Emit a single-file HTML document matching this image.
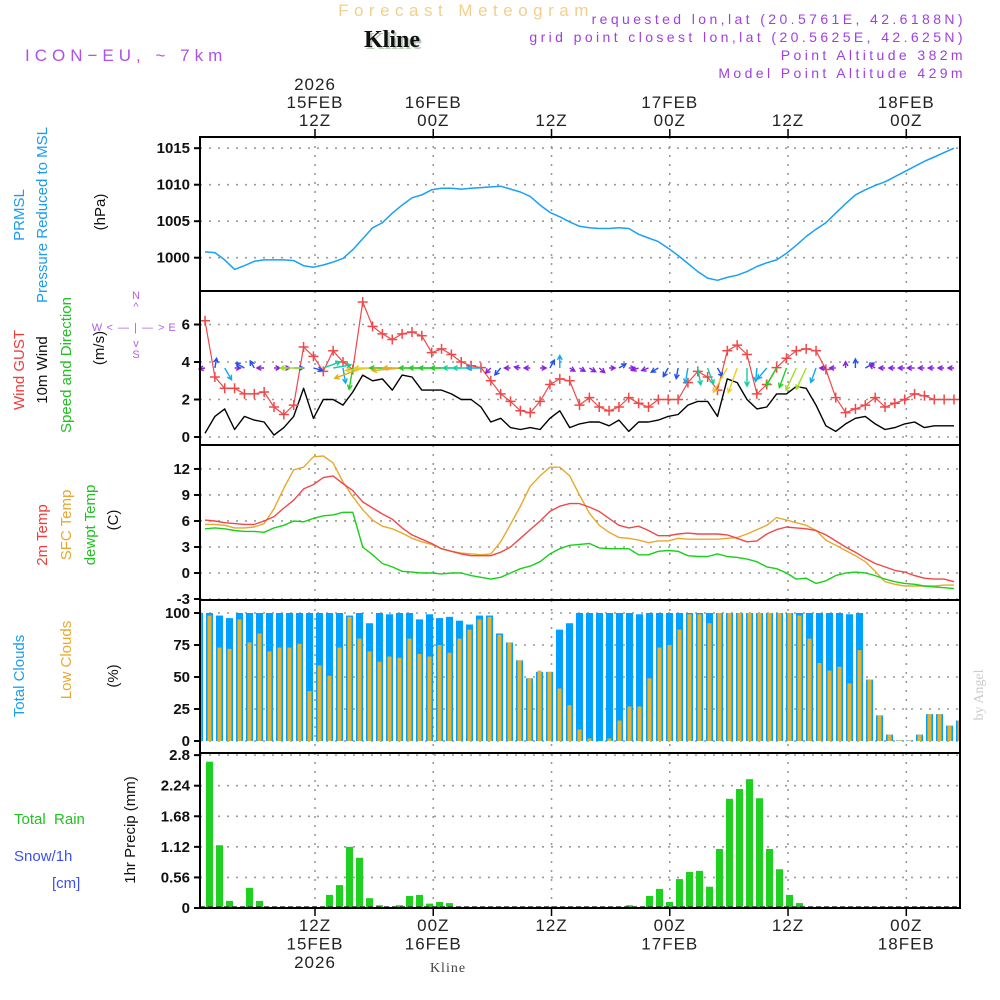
<!DOCTYPE html>
<html><head><meta charset="utf-8"><title>Forecast Meteogram - Kline</title>
<style>
html,body{margin:0;padding:0;background:#fff;}
svg{display:block;font-family:"Liberation Sans",sans-serif;}
.tk{font-size:15px;font-weight:bold;fill:#111;text-anchor:end;}
.tl{font-size:17px;fill:#222;text-anchor:middle;letter-spacing:1px;}
.lab{font-size:15px;}
</style></head>
<body>
<svg id="chart" width="1000" height="1000" viewBox="0 0 1000 1000">
  <text x="466" y="16" text-anchor="middle" font-size="17" fill="#f3cf8a" letter-spacing="5.5">Forecast Meteogram</text>
  <text x="394" y="49" text-anchor="middle" font-size="24" font-weight="bold" font-family="Liberation Serif,serif" fill="#b9cbb9">Kline</text>
  <text x="392" y="47" text-anchor="middle" font-size="24" font-weight="bold" font-family="Liberation Serif,serif" fill="#111">Kline</text>
  <text x="25" y="61" font-size="17" fill="#b050e8" letter-spacing="5">ICON−EU, ~ 7km</text>
  <g font-size="14" fill="#a040e0" text-anchor="end" letter-spacing="3.4">
    <text x="966" y="24">requested lon,lat (20.5761E, 42.6188N)</text>
    <text x="966" y="42">grid point closest lon,lat (20.5625E, 42.625N)</text>
    <text x="966" y="60">Point Altitude 382m</text>
    <text x="966" y="78">Model Point Altitude 429m</text>
  </g>

  <g class="lab">
    <text transform="translate(24,215) rotate(-90)" text-anchor="middle" fill="#1a9cf0">PRMSL</text>
    <text transform="translate(47,215) rotate(-90)" text-anchor="middle" fill="#1a9cf0">Pressure Reduced to MSL</text>
    <text transform="translate(105,212) rotate(-90)" text-anchor="middle" fill="#111">(hPa)</text>
  </g>
  <g class="lab">
    <text transform="translate(24,370) rotate(-90)" text-anchor="middle" fill="#f03c3c">Wind GUST</text>
    <text transform="translate(47,370) rotate(-90)" text-anchor="middle" fill="#111">10m Wind</text>
    <text transform="translate(71,365) rotate(-90)" text-anchor="middle" fill="#22c022">Speed and Direction</text>
    <text transform="translate(104,348) rotate(-90)" text-anchor="middle" fill="#111">(m/s)</text>
    <g font-size="11" fill="#b060e8" text-anchor="middle">
      <text x="136" y="299">N</text><text x="136" y="310">^</text>
      <text x="97" y="331">W</text><text x="136" y="331" letter-spacing="1">&lt; — | — &gt;</text><text x="172" y="331">E</text>
      <text x="136" y="347">v</text><text x="136" y="358">S</text>
    </g>
  </g>
  <g class="lab">
    <text transform="translate(47,535) rotate(-90)" text-anchor="middle" fill="#f03c3c">2m Temp</text>
    <text transform="translate(71,525) rotate(-90)" text-anchor="middle" fill="#e8a830">SFC Temp</text>
    <text transform="translate(95,525) rotate(-90)" text-anchor="middle" fill="#22c022">dewpt Temp</text>
    <text transform="translate(118,520) rotate(-90)" text-anchor="middle" fill="#111">(C)</text>
  </g>
  <g class="lab">
    <text transform="translate(24,676) rotate(-90)" text-anchor="middle" fill="#1a9cf0">Total Clouds</text>
    <text transform="translate(71,660) rotate(-90)" text-anchor="middle" fill="#e8a830">Low Clouds</text>
    <text transform="translate(118,676) rotate(-90)" text-anchor="middle" fill="#111">(%)</text>
  </g>
  <g class="lab">
    <text x="14" y="824" fill="#22c022" xml:space="preserve">Total  Rain</text>
    <text x="14" y="861" fill="#3c50f0">Snow/1h</text>
    <text x="52" y="888" fill="#3c50f0">[cm]</text>
    <text transform="translate(135,830) rotate(-90)" text-anchor="middle" fill="#111">1hr Precip (mm)</text>
  </g>
  <text transform="translate(983,695) rotate(-90)" text-anchor="middle" font-size="14" fill="#ccc" font-family="Liberation Serif,serif">by Angel</text>
  <text x="448" y="972" text-anchor="middle" font-size="14" fill="#444" font-family="Liberation Serif,serif" letter-spacing="1">Kline</text>

  <g id="grid"></g>
  <g id="marks"></g>
  <g id="frames"></g>
  <g id="ticks"></g>
</svg>
<script>
// ---- data ----
const timeHours = [12, 24, 36, 48, 60, 72];
const timeLabelTop = [["2026","15FEB","12Z"],["16FEB","00Z"],["12Z"],["17FEB","00Z"],["12Z"],["18FEB","00Z"]];
const timeLabelBottom = [["12Z","15FEB","2026"],["00Z","16FEB"],["12Z"],["00Z","17FEB"],["12Z"],["00Z","18FEB"]];
const pressure = [1000.8,1000.7,999.7,998.4,998.9,999.5,999.7,999.7,999.7,999.6,998.9,998.7,999.0,999.4,999.9,1001.1,1002.6,1004.1,1004.8,1006.1,1007.2,1008.2,1008.6,1009.3,1009.5,1009.5,1009.4,1009.5,1009.6,1009.7,1009.8,1009.4,1009.0,1008.4,1007.2,1006.2,1005.6,1004.9,1004.3,1004.1,1004.0,1004.0,1004.1,1004.0,1003.2,1002.7,1002.2,1001.3,1000.3,999.2,998.1,997.2,996.9,997.3,997.6,998.1,998.8,999.3,999.7,1000.6,1001.7,1002.9,1003.9,1004.8,1006.1,1007.4,1008.6,1009.3,1009.9,1010.4,1011.1,1011.8,1012.5,1013.2,1013.8,1014.4,1015.0];
const windGust = [6.2,3.2,2.6,2.6,2.3,2.3,2.4,1.6,1.2,1.7,4.8,4.3,3.5,4.6,4.0,3.6,7.2,5.9,5.5,5.2,5.5,5.6,5.4,4.5,4.7,4.4,4.0,3.8,3.7,3.0,2.3,1.9,1.4,1.3,1.9,2.8,3.1,3.0,1.7,2.1,1.6,1.4,1.6,2.1,1.8,1.6,2.0,2.0,2.0,2.9,3.5,3.2,2.5,4.6,4.9,4.4,2.3,2.8,3.7,4.2,4.6,4.7,4.6,3.6,2.1,1.3,1.5,1.7,2.1,1.6,1.8,2.0,2.3,2.2,2.0,2.0,2.0];
const wind10m = [0.2,1.1,1.5,0.4,1.1,0.9,0.8,0.1,0.5,1.1,2.6,1.0,2.0,2.0,1.7,2.4,3.3,3.0,3.1,2.5,3.3,3.2,2.5,2.5,2.5,2.3,2.0,2.0,1.6,0.8,1.0,0.5,0.4,0.5,0.4,1.0,1.4,0.5,0.7,0.8,0.8,0.6,0.9,0.3,0.8,0.8,0.9,1.1,1.2,1.7,1.9,1.9,1.1,3.1,2.9,2.0,1.5,1.6,2.3,2.3,2.7,2.6,1.7,0.6,0.3,0.7,1.0,1.1,0.7,0.4,0.5,0.7,0.8,0.5,0.6,0.6,0.6];
const windDir = [190,80,-60,0,150,120,180,0,0,0,180,-15,20,10,-80,-100,200,185,180,180,185,180,180,180,180,180,180,180,180,-135,-130,180,170,180,0,60,90,-30,-30,-30,-40,0,30,0,200,200,210,-120,-100,-100,-80,-70,-60,-120,-110,-90,-95,-130,-120,-110,-115,-115,-110,180,180,90,90,30,150,180,180,180,180,180,180,180,180];
const temp2m = [6.1,6.0,5.8,5.7,5.6,5.6,6.0,6.5,7.5,8.4,9.7,10.2,11.0,11.2,10.3,9.5,8.2,7.5,6.8,6.2,5.2,4.4,3.9,3.4,2.8,2.5,2.2,2.0,2.0,2.0,2.4,3.0,4.0,5.0,6.0,7.1,7.7,8.0,8.0,7.6,7.1,6.3,5.5,5.2,5.4,4.9,4.3,4.3,4.5,4.6,4.5,4.5,4.5,4.4,4.0,3.6,3.7,4.5,5.0,5.3,5.2,5.1,4.9,4.4,3.7,3.0,2.4,1.7,1.1,0.7,0.3,0.1,-0.3,-0.6,-0.7,-0.7,-1.0];
const tempSfc = [5.6,5.6,5.5,5.2,5.2,5.3,5.7,7.4,9.8,11.9,12.2,13.4,13.5,12.7,10.5,8.8,7.3,6.1,5.4,5.1,4.6,4.0,3.6,3.3,2.8,2.5,2.3,2.2,2.1,2.2,3.6,5.6,7.7,10.0,11.2,12.2,12.2,11.2,9.0,6.9,5.5,4.7,4.1,4.0,3.8,3.5,3.7,3.7,4.0,3.9,3.9,3.9,3.9,4.0,4.1,4.5,5.0,5.5,6.4,6.1,5.8,5.5,4.9,3.8,3.2,2.6,2.0,1.3,0.2,-1.0,-1.3,-1.5,-1.5,-1.5,-1.5,-1.4,-1.4];
const dewpt = [5.1,5.2,5.1,4.9,4.8,4.8,4.7,5.2,5.5,6.0,5.9,6.3,6.6,6.7,7.0,7.0,3.0,2.1,1.1,0.7,0.2,0.1,0.0,0.0,-0.1,0.0,0.0,-0.3,-0.5,-0.7,-0.5,0.0,0.5,0.8,1.3,2.2,2.8,3.2,3.3,3.4,2.9,2.8,2.8,2.8,2.1,2.1,2.5,2.6,2.5,2.0,1.9,1.9,2.2,1.9,1.8,1.6,1.3,0.7,0.5,0.0,-0.7,-0.6,-1.2,-0.9,-0.3,0.0,0.1,0.0,-0.3,-0.7,-1.0,-1.2,-1.3,-1.5,-1.6,-1.7,-1.8];
const totalClouds = [100,100,98,96,100,100,100,100,100,100,100,100,100,100,100,98,100,92,100,99,100,100,95,99,96,97,94,91,98,98,84,77,63,49,54,54,87,92,100,100,100,100,100,100,99,100,100,100,100,100,100,100,100,100,100,100,100,100,100,100,100,100,100,100,100,99,100,48,20,5,0.5,0.5,5,21,21,12,16];
const lowClouds = [100,98,73,72,95,77,84,70,73,73,76,39,59,51,73,97,80,70,62,66,65,80,68,66,75,69,80,87,95,97,83,77,63,49,55,54,41,28,9,2,0,2,16,27,27,49,73,75,87,99,99,92,100,100,100,100,100,100,100,100,98,80,61,55,58,45,71,48,20,5,0.5,0.5,5,21,21,12,16];
const precip = [0,2.68,1.15,0.13,0,0.37,0.13,0.01,0,0,0,0,0,0.24,0.42,1.12,0.92,0.18,0.05,0.02,0.05,0.22,0.24,0.08,0.11,0.09,0.02,0,0,0,0,0,0,0,0,0,0,0,0,0,0,0,0,0.05,0.01,0.22,0.35,0.11,0.53,0.66,0.68,0.39,1.08,2.0,2.18,2.36,2.01,1.08,0.71,0.24,0.09,0,0,0,0,0,0,0,0,0,0,0,0,0,0,0,0];
const pressureTicks = [1000,1005,1010,1015];
const windTicks = [0,2,4,6];
const tempTicks = [-3,0,3,6,9,12];
const cloudTicks = [0,25,50,75,100];
const precipTicks = [0,0.56,1.12,1.68,2.24,2.8];

// ---- axes ----
const X0 = 200, X1 = 960;
const xTime = h => 315 + (h - 12) * 9.855;
const xLine = j => xTime(j + 0.84);
const xBar = i => 199.5 + 10 * i;
const panels = [
  {name:'pressure', top:137, bot:291},
  {name:'wind', top:291, bot:445},
  {name:'temp', top:445, bot:600},
  {name:'cloud', top:600, bot:753},
  {name:'precip', top:753, bot:908}
];
const yP = v => 257.7 - (v - 1000) * 7.3;
const yW = v => 437 - v * 18.75;
const yT = v => 573 - v * 8.67;
const yC = v => 741 - v * 1.28;
const yR = v => 908 - v * 54.6;

const NS = 'http://www.w3.org/2000/svg';
function mk(tag, attrs, parent) {
  const e = document.createElementNS(NS, tag);
  for (const k in attrs) e.setAttribute(k, attrs[k]);
  parent.appendChild(e);
  return e;
}
const grid = document.getElementById('grid');
const marks = document.getElementById('marks');
const frames = document.getElementById('frames');
const ticks = document.getElementById('ticks');

const gstyle = {stroke:'#9a9a9a','stroke-width':1.6,'stroke-dasharray':'2,7',fill:'none'};
function hgrid(y) {
  const l = mk('line', Object.assign({x1:X0, x2:X1, y1:y, y2:y}, gstyle), grid);
  
  
}
pressureTicks.forEach(v => hgrid(yP(v)));
windTicks.forEach(v => hgrid(yW(v)));
tempTicks.forEach(v => hgrid(yT(v)));
cloudTicks.forEach(v => hgrid(yC(v)));
precipTicks.forEach(v => hgrid(yR(v)));
panels.forEach(p => {
  timeHours.forEach(h => {
    const l = mk('line', Object.assign({x1:xTime(h), x2:xTime(h), y1:p.top, y2:p.bot}, gstyle), grid);
    
    
  });
});

function polyline(arr, yf, color, name, w) {
  const pts = arr.map((v, j) => xLine(j).toFixed(1) + ',' + yf(v).toFixed(1)).join(' ');
  const pl = mk('polyline', {points:pts, fill:'none', stroke:color, 'stroke-width':w || 1.4, 'stroke-linejoin':'round'}, marks);
  
  
}
polyline(pressure, yP, '#1aa0f5', 'pressure-line', 1.5);

const clip = mk('clipPath', {id:'plotclip'}, marks);
mk('rect', {x:X0, y:0, width:X1 - X0, height:1000}, clip);
const barG = mk('g', {'clip-path':'url(#plotclip)'}, marks);


totalClouds.forEach((v, i) => {
  const b = mk('rect', {x:xBar(i) - 3.5, y:yC(v), width:7, height:yC(0) - yC(v), fill:'#00a0ff'}, barG);
  
  
});
lowClouds.forEach((v, i) => {
  const b = mk('rect', {x:xBar(i) - 2, y:yC(v), width:4, height:yC(0) - yC(v), fill:'#e8b030'}, barG);
  
  
});
precip.forEach((v, i) => {
  if (v <= 0) return;
  const b = mk('rect', {x:xBar(i) - 3.5, y:yR(v), width:7, height:yR(0) - yR(v), fill:'#20d020'}, barG);
  
  
});
const zl = mk('line', {x1:X0, x2:X1, y1:907, y2:907, stroke:'#333', 'stroke-width':1.5, 'stroke-dasharray':'5,3'}, marks);



polyline(tempSfc, yT, '#e8a830', 'sfc-temp-line', 1.4);
polyline(temp2m, yT, '#f04848', '2m-temp-line', 1.4);
polyline(dewpt, yT, '#18d018', 'dewpt-line', 1.4);

polyline(wind10m, yW, '#000', 'wind-10m-line', 1.4);
polyline(windGust, yW, '#f04848', 'wind-gust-line', 1.2);
windGust.forEach((v, j) => {
  const x = xLine(j), y = yW(v);
  const c = mk('path', {d:`M${x-5},${y}H${x+5}M${x},${y-5}V${y+5}`, stroke:'#f04848', 'stroke-width':1.5}, marks);
  
  
});
function windColor(s) {
  if (s < 0.9) return '#8a20e0';
  if (s < 1.4) return '#2050f0';
  if (s < 1.9) return '#10a8f0';
  if (s < 2.2) return '#10d0a0';
  if (s < 2.6) return '#20d020';
  if (s < 2.9) return '#a0e020';
  if (s < 3.2) return '#e8d020';
  return '#e8a820';
}
windDir.forEach((d, j) => {
  const s = wind10m[j];
  const L = Math.max(6, s * 9);
  const a = d * Math.PI / 180;
  const x0 = xLine(j), y0 = 368;
  const x1 = x0 + L * Math.cos(a), y1 = y0 - L * Math.sin(a);
  const h1 = a + Math.PI - 0.5, h2 = a + Math.PI + 0.5;
  const col = windColor(s);
  const ar = mk('path', {d:`M${x0.toFixed(1)},${y0}L${x1.toFixed(1)},${y1.toFixed(1)}M${(x1+5*Math.cos(h1)).toFixed(1)},${(y1-5*Math.sin(h1)).toFixed(1)}L${x1.toFixed(1)},${y1.toFixed(1)}L${(x1+5*Math.cos(h2)).toFixed(1)},${(y1-5*Math.sin(h2)).toFixed(1)}`, stroke:col, 'stroke-width':1.4, fill:'none'}, marks);
  
  
});

panels.forEach(p => {
  const r = mk('rect', {x:X0, y:p.top, width:X1 - X0, height:p.bot - p.top, fill:'none', stroke:'#000', 'stroke-width':2}, frames);
  
  
});

function yticks(arr, yf, fmt) {
  arr.forEach(v => {
    const y = yf(v);
    const t = mk('line', {x1:X0 - 6, x2:X0, y1:y, y2:y, stroke:'#000', 'stroke-width':2}, ticks);
    
    
    const tx = mk('text', {x:X0 - 10, y:y + 5, class:'tk'}, ticks);
    tx.textContent = fmt ? fmt(v) : String(v);
    
    
  });
}
yticks(pressureTicks, yP);
yticks(windTicks, yW);
yticks(tempTicks, yT);
yticks(cloudTicks, yC);
yticks(precipTicks, yR);

timeHours.forEach((h, k) => {
  const x = xTime(h);
  const t1 = mk('line', {x1:x, x2:x, y1:129, y2:137, stroke:'#000', 'stroke-width':1.5}, ticks);
  
  
  const t2 = mk('line', {x1:x, x2:x, y1:908, y2:916, stroke:'#000', 'stroke-width':1.5}, ticks);
  
  
  const top = timeLabelTop[k];
  top.forEach((s, r) => {
    const t = mk('text', {x:x, y:126 - (top.length - 1 - r) * 18, class:'tl'}, ticks);
    t.textContent = s;
    
    
  });
  timeLabelBottom[k].forEach((s, r) => {
    const t = mk('text', {x:x, y:931 + r * 18.5, class:'tl'}, ticks);
    t.textContent = s;
    
    
  });
});
</script>
</body></html>
